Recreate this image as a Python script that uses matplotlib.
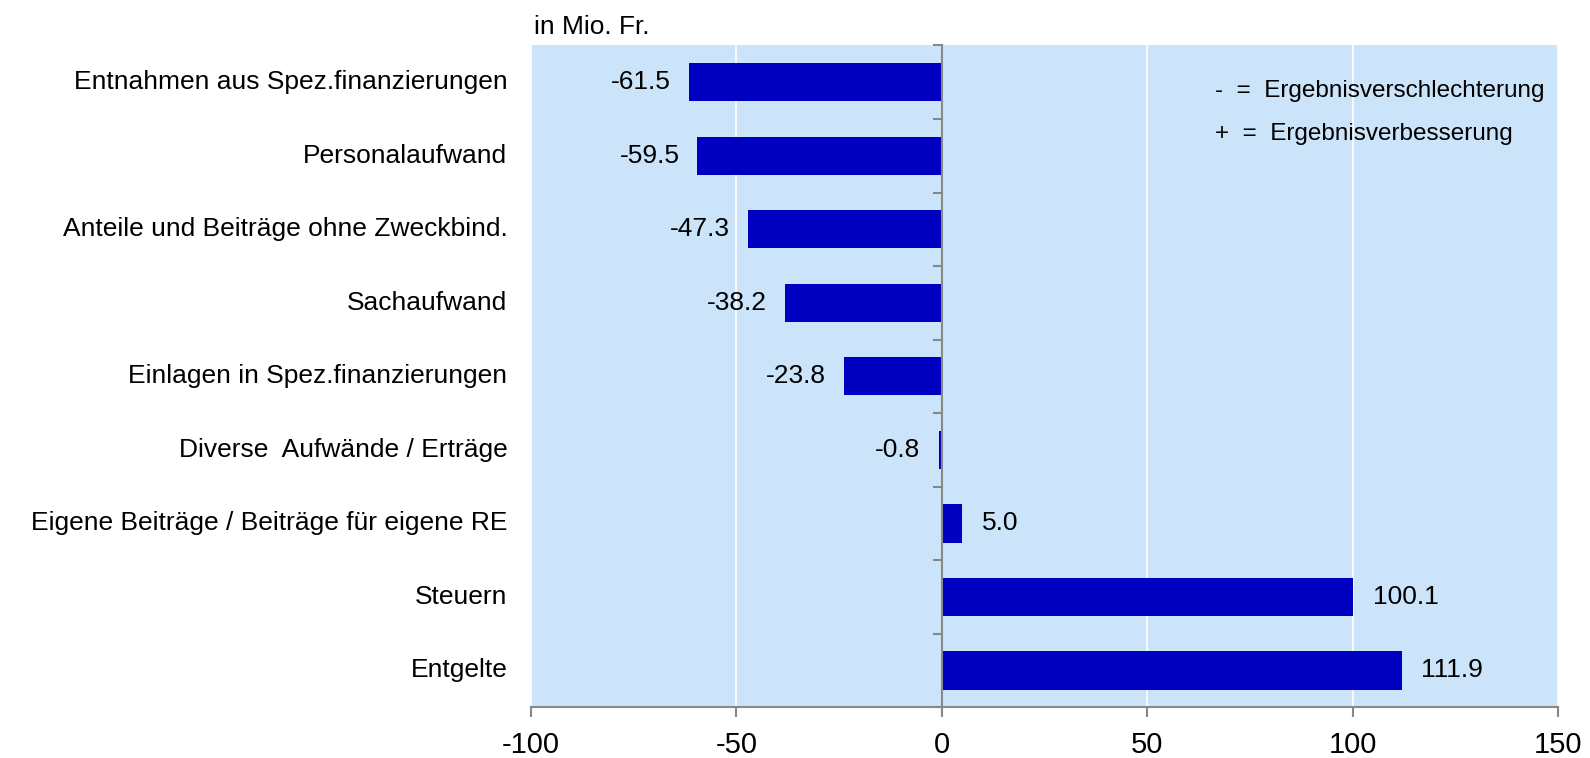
import matplotlib.pyplot as plt

plt.rcParams['font.family'] = ['Liberation Sans', 'DejaVu Sans']

kategorien = ['Entnahmen aus Spez.finanzierungen', 'Personalaufwand',
              'Anteile und Beiträge ohne Zweckbind.', 'Sachaufwand',
              'Einlagen in Spez.finanzierungen', 'Diverse  Aufwände / Erträge',
              'Eigene Beiträge / Beiträge für eigene RE', 'Steuern', 'Entgelte']
werte = [-61.5, -59.5, -47.3, -38.2, -23.8, -0.8, 5.0, 100.1, 111.9]
xticks = [-100, -50, 0, 50, 100, 150]

fig = plt.figure(figsize=(15.9, 7.58), dpi=100)
ax = fig.add_axes([0.334, 0.0670, 0.646, 0.873])
ax.set_facecolor('#CCE4FA')

pos = list(range(len(kategorien)))
ax.barh(pos, werte, height=0.52, color='#0000C0', zorder=3)
ax.set_ylim(len(kategorien) - 0.5, -0.5)
ax.set_xlim(-100, 150)
ax.set_xticks(xticks)
ax.set_xticklabels([str(t) for t in xticks], fontsize=21)
ax.xaxis.grid(True, color='white', linewidth=1.2, zorder=1)
ax.set_yticks([])

for s in ['top', 'right', 'left']:
    ax.spines[s].set_visible(False)
ax.spines['bottom'].set_color('#888888')
ax.spines['bottom'].set_linewidth(1.5)
ax.tick_params(axis='x', length=7, width=1.5, color='#888888', pad=10)

# Nullachse mit Kategorie-Strichen
ax.axvline(0, color='#888888', linewidth=1.5, zorder=4)
for b in range(len(kategorien) + 1):
    ax.plot([-2, 0], [b - 0.5, b - 0.5], color='#888888', linewidth=1.5,
            zorder=4, clip_on=False)

for p, k, w in zip(pos, kategorien, werte):
    ax.annotate(k, xy=(-100, p), xytext=(-17, 0), textcoords='offset points',
                ha='right', va='center', fontsize=19, annotation_clip=False)
    if w < 0:
        ax.annotate(f'{w:.1f}', xy=(w, p), xytext=(-13, 0), textcoords='offset points',
                    ha='right', va='center', fontsize=19, zorder=5)
    else:
        ax.annotate(f'{w:.1f}', xy=(w, p), xytext=(14, 0), textcoords='offset points',
                    ha='left', va='center', fontsize=19, zorder=5)

fig.text(534 / 1590, 1 - 27 / 758, 'in Mio. Fr.', ha='left', va='center', fontsize=19)
ax.text(0.666, 0.931, '-  =  Ergebnisverschlechterung', transform=ax.transAxes,
        ha='left', va='center', fontsize=17.5)
ax.text(0.666, 0.866, '+  =  Ergebnisverbesserung', transform=ax.transAxes,
        ha='left', va='center', fontsize=17.5)

fig.savefig('out.png', dpi=100)
